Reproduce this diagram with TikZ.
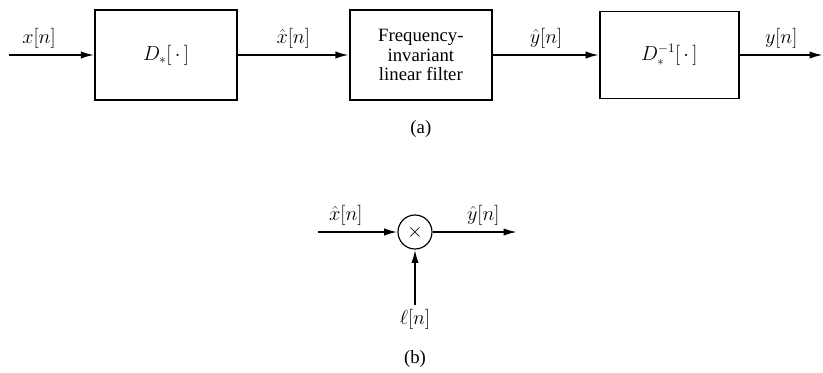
\documentclass[tikz,border=0pt]{standalone}
\usepackage{fontspec}
\setmainfont{Liberation Serif}
\usepackage{amsmath, amssymb}
\usetikzlibrary{arrows.meta, positioning, calc}
\tikzset{
  block/.style={rectangle, draw, line width=1.3pt, minimum width=4.26cm,
    minimum height=2.7cm, align=center, font=\fontsize{16}{17}\selectfont},
  fblock/.style={block, line width=1.9pt},
  mult/.style={circle, draw, line width=1pt, minimum size=1.02cm, inner sep=0pt,
    font=\fontsize{16}{17}\selectfont},
  sig/.style={-{Latex[length=4mm, width=2.2mm]}, line width=1.6pt},
  lbl/.style={font=\fontsize{16}{17}\selectfont}
}

\begin{document}
\begin{tikzpicture}[node distance=3.3cm]
  \useasboundingbox (0,0) rectangle (24.69,-11.16);
  % (a) homomorphic system
  \node[block] (dstar) at (4.98,-1.65) {$D_*[\,\cdot\,]$};
  \node[fblock, right=3.33cm of dstar] (filt)
    {Frequency-\\invariant\\linear filter};
  \node[block, right=3.18cm of filt, minimum width=4.17cm, minimum height=2.6cm] (dinv)
    {$D_*^{-1}[\,\cdot\,]$};
  \coordinate[left=2.55cm of dstar] (xin);
  \coordinate[right=2.5cm of dinv] (yout);
  \draw[sig] (xin) -- node[lbl, above=1pt, pos=0.35] {$x[n]$} (dstar);
  \draw[sig] (dstar) -- node[lbl, above=1pt] {$\hat{x}[n]$} (filt);
  \draw[sig] (filt) -- node[lbl, above=1pt] {$\hat{y}[n]$} (dinv);
  \draw[sig] (dinv) -- node[lbl, above=1pt] {$y[n]$} (yout);
  \node[lbl, below=0.45cm of filt] (capa) {(a)};
  % (b) multiplier
  \node[mult] (prod) at (12.45,-6.96) {$\times$};
  \coordinate (bin) at (9.54,-6.96);
  \coordinate (bout) at (15.51,-6.96);
  \coordinate (bwin) at (12.45,-9.15);
  \draw[sig] (bin) -- node[lbl, above=1pt, pos=0.35] {$\hat{x}[n]$} (prod);
  \draw[sig] (prod) -- node[lbl, above=1pt, pos=0.6] {$\hat{y}[n]$} (bout);
  \draw[sig] (bwin) -- (prod);
  \node[lbl, below=0pt of bwin] (win) {$\ell[n]$};
  \node[lbl, below=0.4cm of win] (capb) {(b)};
\end{tikzpicture}
\end{document}
